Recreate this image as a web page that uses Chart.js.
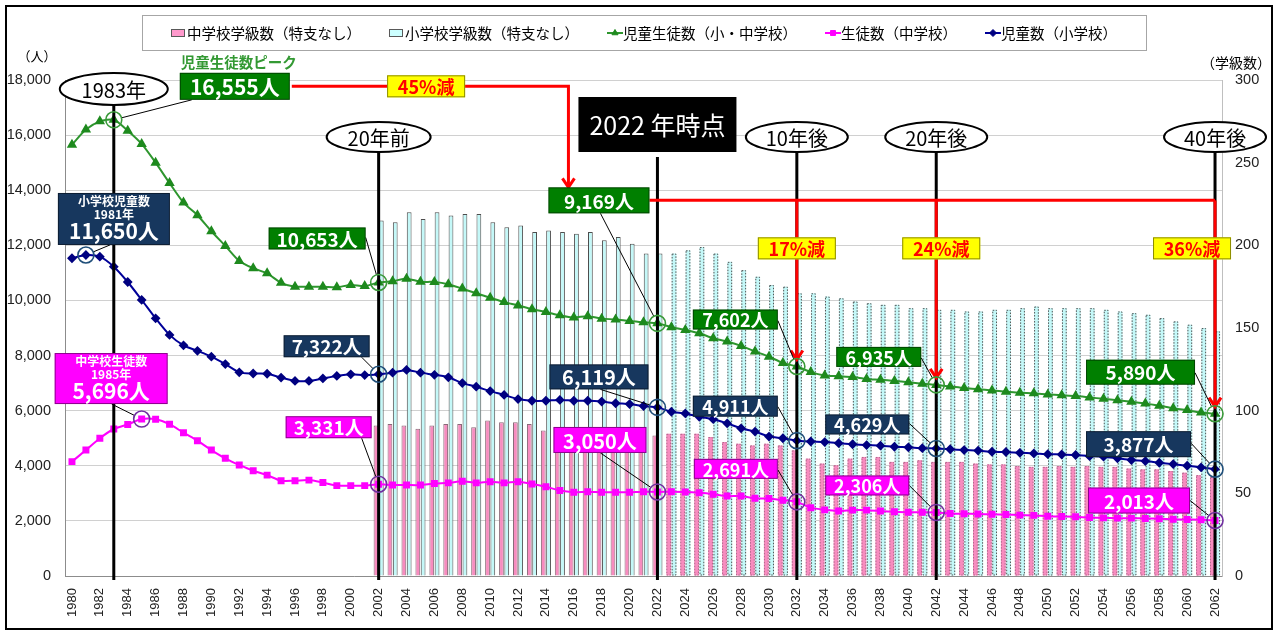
<!DOCTYPE html>
<html lang="ja">
<head>
<meta charset="utf-8">
<title>児童生徒数・学級数の推移</title>
<script src="https://cdn.jsdelivr.net/npm/chart.js@4.4.1/dist/chart.umd.min.js"></script>
<style>
  body { margin: 0; background: #fff; }
  #wrap { position: relative; width: 1277px; height: 634px; }
  #frame { position: absolute; left: 5px; top: 5px; width: 1264px; height: 621px; border: 2px solid #000; pointer-events: none; }
</style>
</head>
<body>
<div id="wrap">
  <canvas id="grafica" width="1277" height="634"></canvas>
  <div id="frame"></div>
</div>
<script>
// years on the x axis
const years = [
  '1980','1981','1982','1983','1984','1985','1986','1987','1988','1989',
  '1990','1991','1992','1993','1994','1995','1996','1997','1998','1999',
  '2000','2001','2002','2003','2004','2005','2006','2007','2008','2009',
  '2010','2011','2012','2013','2014','2015','2016','2017','2018','2019',
  '2020','2021','2022','2023','2024','2025','2026','2027','2028','2029',
  '2030','2031','2032','2033','2034','2035','2036','2037','2038','2039',
  '2040','2041','2042','2043','2044','2045','2046','2047','2048','2049',
  '2050','2051','2052','2053','2054','2055','2056','2057','2058','2059',
  '2060','2061','2062'
];

// 児童生徒数（小・中学校）
const totalStudents = [
  15650, 16200, 16500, 16555, 16160, 15680, 15000, 14260, 13550, 13090,
  12510, 11980, 11430, 11170, 10985, 10640, 10500, 10500, 10500, 10480,
  10560, 10520, 10653, 10700, 10790, 10680, 10670, 10590, 10430, 10260,
  10100, 9940, 9820, 9680, 9580, 9460, 9380, 9430, 9340, 9310,
  9250, 9210, 9169, 9030, 8930, 8810, 8630, 8510, 8350, 8150,
  7960, 7730, 7602, 7400, 7280, 7250, 7220, 7150, 7120, 7080,
  7030, 6980, 6935, 6880, 6820, 6780, 6730, 6690, 6650, 6630,
  6590, 6560, 6530, 6480, 6430, 6380, 6320, 6260, 6180, 6090,
  6020, 5930, 5890
];

// 児童数（小学校）
const elemStudents = [
  11530, 11650, 11590, 11225, 10670, 10020, 9350, 8750, 8370, 8170,
  7960, 7690, 7390, 7350, 7340, 7200, 7080, 7080, 7170, 7260,
  7320, 7290, 7322, 7380, 7480, 7380, 7300, 7210, 7000, 6870,
  6710, 6570, 6420, 6360, 6360, 6390, 6360, 6360, 6330, 6270,
  6240, 6170, 6119, 5960, 5900, 5780, 5690, 5540, 5360, 5240,
  5060, 5000, 4911, 4880, 4860, 4820, 4780, 4750, 4730, 4690,
  4670, 4640, 4629, 4600, 4570, 4550, 4510, 4500, 4470, 4450,
  4420, 4410, 4390, 4350, 4330, 4270, 4210, 4170, 4110, 4060,
  4000, 3940, 3877
];

// 生徒数（中学校）
const juniorStudents = [
  4150, 4570, 5000, 5335, 5500, 5696, 5690, 5510, 5200, 4910,
  4570, 4270, 4030, 3820, 3660, 3460, 3460, 3480, 3390, 3280,
  3280, 3280, 3331, 3300, 3300, 3300, 3360, 3380, 3440, 3380,
  3420, 3380, 3420, 3340, 3240, 3100, 3040, 3060, 3040, 3040,
  3040, 3060, 3050, 3060, 3050, 3020, 2970, 2900, 2900, 2820,
  2810, 2750, 2691, 2480, 2400, 2360, 2390, 2390, 2360, 2330,
  2310, 2310, 2306, 2270, 2260, 2250, 2240, 2230, 2210, 2200,
  2170, 2160, 2150, 2120, 2110, 2100, 2100, 2090, 2080, 2060,
  2050, 2040, 2013
];

// 中学校学級数（特支なし） right axis
const juniorClasses = [
  null, null, null, null, null, null, null, null, null, null,
  null, null, null, null, null, null, null, null, null, null,
  null, null, 91, 92, 91, 89, 91, 92, 92, 90,
  94, 93, 93, 92, 88, 87, 87, 86, 86, 86,
  85, 85, 85, 86, 86, 86, 84, 81, 80, 79,
  80, 79, 76, 71, 68, 67, 71, 72, 72, 69,
  69, 70, 69, 69, 69, 68, 67.5, 67.5, 66.5, 66,
  66, 66.5, 66, 66.5, 66, 66, 65, 64.5, 64.5, 63.5,
  62.5, 61, 60
];

// 小学校学級数（特支なし） right axis
const elemClasses = [
  null, null, null, null, null, null, null, null, null, null,
  null, null, null, null, null, null, null, null, null, null,
  null, null, 215, 214, 220, 216, 220, 218, 219, 219,
  214, 211, 212, 208, 209, 208, 207, 208, 203, 205,
  201, 195, 195, 195, 197, 199, 195, 190, 185, 181,
  176, 175, 171, 171, 169, 168, 166, 165, 164, 164,
  162, 162, 161, 161, 160, 160, 161, 161, 162, 163,
  162, 162, 162, 162, 161, 160, 159, 158, 156, 154,
  152, 150, 148
];

const lastActual = years.indexOf('2022');
const JP = '"Noto Sans CJK JP", "Noto Sans", sans-serif';
const AR = '"Liberation Sans", Arial, sans-serif';
const GREEN = '#007f00', NAVY = '#17375e', PINK = '#ff00ff';
const seriesIndex = { total: 2, junior: 3, elem: 4 };
const ringColor = { total: '#3a9a3a', elem: '#1f4e79', junior: '#7030a0' };

// milestone ellipses
const eras = [
  { year: '1983', text: '1983年', cy: 89, rx: 54, ry: 16 },
  { year: '2002', text: '20年前', cy: 137, rx: 52, ry: 15 },
  { year: '2032', text: '10年後', cy: 137, rx: 51, ry: 15 },
  { year: '2042', text: '20年後', cy: 137, rx: 51, ry: 15 },
  { year: '2062', text: '40年後', cy: 137, rx: 51, ry: 15 }
];
const nowBox = { year: '2022', text: '2022 年時点', top: 97, w: 158, h: 55 };

// value callouts: box offset from the data point, leader start inside box
const callouts = [
  { id: 'peak', year: '1983', s: 'total', lines: ['16,555人'], bg: GREEN, dx: 66, dy: -47, w: 110, h: 27, size: 21, lx: 12, ly: 27 },
  { id: 'e81', year: '1981', s: 'elem', lines: ['小学校児童数', '1981年', '11,650人'], bg: NAVY, dx: -28, dy: -62, w: 112, h: 52, size: 21, lx: 52, ly: 52 },
  { id: 'j85', year: '1985', s: 'junior', lines: ['中学校生徒数', '1985年', '5,696人'], bg: PINK, dx: -87, dy: -66, w: 113, h: 51, size: 21, lx: 57, ly: 51 },
  { id: 't02', year: '2002', s: 'total', lines: ['10,653人'], bg: GREEN, dx: -110, dy: -55, w: 97, h: 22, size: 19, lx: 97, ly: 10 },
  { id: 'e02', year: '2002', s: 'elem', lines: ['7,322人'], bg: NAVY, dx: -95, dy: -39, w: 86, h: 22, size: 19, lx: 78, ly: 22 },
  { id: 'j02', year: '2002', s: 'junior', lines: ['3,331人'], bg: PINK, dx: -93, dy: -68, w: 86, h: 22, size: 19, lx: 76, ly: 22 },
  { id: 'now', year: '2022', s: 'total', lines: ['9,169人'], bg: GREEN, dx: -109, dy: -136, w: 101, h: 26, size: 19, lx: 52, ly: 26 },
  { id: 'e22', year: '2022', s: 'elem', lines: ['6,119人'], bg: NAVY, dx: -108, dy: -43, w: 99, h: 25, size: 20, lx: 51, ly: 25 },
  { id: 'j22', year: '2022', s: 'junior', lines: ['3,050人'], bg: PINK, dx: -104, dy: -65, w: 93, h: 26, size: 20, lx: 47, ly: 26 },
  { id: 't32', year: '2032', s: 'total', lines: ['7,602人'], bg: GREEN, dx: -104, dy: -57, w: 85, h: 20, size: 18, lx: 85, ly: 11 },
  { id: 'e32', year: '2032', s: 'elem', lines: ['4,911人'], bg: NAVY, dx: -104, dy: -45, w: 85, h: 21, size: 18, lx: 85, ly: 11 },
  { id: 'j32', year: '2032', s: 'junior', lines: ['2,691人'], bg: PINK, dx: -103, dy: -43, w: 84, h: 20, size: 18, lx: 84, ly: 11 },
  { id: 't42', year: '2042', s: 'total', lines: ['6,935人'], bg: GREEN, dx: -100, dy: -38, w: 85, h: 20, size: 18, lx: 85, ly: 11 },
  { id: 'e42', year: '2042', s: 'elem', lines: ['4,629人'], bg: NAVY, dx: -111, dy: -34, w: 84, h: 20, size: 18, lx: 84, ly: 9 },
  { id: 'j42', year: '2042', s: 'junior', lines: ['2,306人'], bg: PINK, dx: -111, dy: -37, w: 84, h: 20, size: 18, lx: 84, ly: 10 },
  { id: 't62', year: '2062', s: 'total', lines: ['5,890人'], bg: GREEN, dx: -129, dy: -54, w: 109, h: 25, size: 19, lx: 109, ly: 13 },
  { id: 'e62', year: '2062', s: 'elem', lines: ['3,877人'], bg: NAVY, dx: -129, dy: -38, w: 105, h: 26, size: 19, lx: 105, ly: 12 },
  { id: 'j62', year: '2062', s: 'junior', lines: ['2,013人'], bg: PINK, dx: -127, dy: -33, w: 102, h: 26, size: 19, lx: 102, ly: 13 }
];

function line(c, x1, y1, x2, y2) {
  c.beginPath(); c.moveTo(x1, y1); c.lineTo(x2, y2); c.stroke();
}

function arrowDown(c, x, y) {
  c.beginPath(); c.moveTo(x - 6, y - 9); c.lineTo(x, y); c.lineTo(x + 6, y - 9); c.stroke();
}

function yellowTag(c, cx, cy, text) {
  const w = 78, h = 22;
  c.fillStyle = '#ffff00';
  c.fillRect(cx - w / 2, cy - h / 2, w, h);
  c.strokeStyle = '#8c8c00'; c.lineWidth = 1;
  c.strokeRect(cx - w / 2 + 0.5, cy - h / 2 + 0.5, w - 1, h - 1);
  c.fillStyle = '#ff0000';
  c.font = 'bold 18px ' + JP;
  c.textAlign = 'center'; c.textBaseline = 'middle';
  c.fillText(text, cx, cy + 1);
}

const annotations = {
  id: 'annotations',
  // dotted outline on the projected bars
  afterDatasetDraw(chart, args) {
    if (args.meta.type !== 'bar') return;
    const src = args.index === 1 ? elemClasses : juniorClasses;
    const c = chart.ctx;
    c.save();
    c.strokeStyle = args.index === 1 ? '#555' : '#b06a8c';
    c.lineWidth = 1; c.setLineDash([1.5, 1.5]);
    args.meta.data.forEach((bar, i) => {
      if (i <= lastActual || src[i] == null) return;
      const p = bar.getProps(['x', 'y', 'base', 'width'], true);
      c.strokeRect(p.x - p.width / 2 + 0.5, p.y + 0.5, p.width - 1, p.base - p.y - 1);
    });
    c.restore();
  },
  afterDatasetsDraw(chart) {
    const c = chart.ctx;
    const area = chart.chartArea;
    const xOf = yr => chart.scales.x.getPixelForValue(years.indexOf(yr));
    const pt = (yr, s) => chart.getDatasetMeta(seriesIndex[s]).data[years.indexOf(yr)];
    c.save();

    // milestone lines
    c.strokeStyle = '#000'; c.lineWidth = 3;
    eras.forEach(e => { const x = xOf(e.year); line(c, x, e.cy + e.ry, x, area.bottom + 4); });
    const nx = xOf(nowBox.year);
    line(c, nx, nowBox.top + nowBox.h + 5, nx, area.bottom + 4);

    const boxes = {};
    callouts.forEach(k => {
      const p = pt(k.year, k.s);
      boxes[k.id] = { x: p.x + k.dx, y: p.y + k.dy, w: k.w, h: k.h, px: p.x, py: p.y, k };
    });

    // red decrease arrows
    c.strokeStyle = '#ff0000'; c.lineWidth = 3;
    const b1 = boxes.peak, b2 = boxes.now;
    const y1 = b1.y + b1.h / 2, x1end = b2.x + 20;
    c.beginPath(); c.moveTo(b1.x + b1.w + 2, y1); c.lineTo(x1end, y1); c.lineTo(x1end, b2.y); c.stroke();
    arrowDown(c, x1end, b2.y);
    const y2 = b2.y + b2.h / 2;
    const xEnd = xOf('2062');
    c.beginPath(); c.moveTo(b2.x + b2.w, y2); c.lineTo(xEnd, y2); c.stroke();
    ['2032', '2042', '2062'].forEach(yr => {
      const x = xOf(yr), tip = pt(yr, 'total').y - 7;
      line(c, x, y2, x, tip);
      arrowDown(c, x, tip);
    });

    // leader lines and rings
    callouts.forEach(k => {
      const b = boxes[k.id];
      const sx = b.x + k.lx, sy = b.y + k.ly;
      const ang = Math.atan2(sy - b.py, sx - b.px);
      c.strokeStyle = '#000'; c.lineWidth = 1;
      line(c, sx, sy, b.px + Math.cos(ang) * 8, b.py + Math.sin(ang) * 8);
      c.strokeStyle = ringColor[k.s]; c.lineWidth = 1.6;
      c.beginPath(); c.arc(b.px, b.py, 8, 0, Math.PI * 2); c.stroke();
    });

    // callout boxes
    callouts.forEach(k => {
      const b = boxes[k.id];
      c.fillStyle = k.bg;
      c.fillRect(b.x, b.y, b.w, b.h);
      c.strokeStyle = 'rgba(0,0,0,0.45)'; c.lineWidth = 1;
      c.strokeRect(b.x + 0.5, b.y + 0.5, b.w - 1, b.h - 1);
      c.fillStyle = '#fff';
      c.textAlign = 'center'; c.textBaseline = 'middle';
      const cx = b.x + b.w / 2;
      if (k.lines.length === 1) {
        c.font = 'bold ' + k.size + 'px ' + JP;
        c.fillText(k.lines[0], cx, b.y + b.h / 2 + 1);
      } else {
        c.font = 'bold 12px ' + JP;
        c.fillText(k.lines[0], cx, b.y + 8);
        c.fillText(k.lines[1], cx, b.y + 21);
        c.font = 'bold ' + k.size + 'px ' + JP;
        c.fillText(k.lines[2], cx, b.y + 38);
      }
    });

    // peak caption
    c.fillStyle = '#339933';
    c.font = 'bold 14.5px ' + JP;
    c.textAlign = 'left'; c.textBaseline = 'middle';
    c.fillText('児童生徒数ピーク', b1.x + 1, b1.y - 10);

    // ellipses
    eras.forEach(e => {
      const x = xOf(e.year);
      c.beginPath(); c.ellipse(x, e.cy, e.rx, e.ry, 0, 0, Math.PI * 2);
      c.fillStyle = '#fff'; c.fill();
      c.strokeStyle = '#000'; c.lineWidth = 2; c.stroke();
      c.fillStyle = '#000'; c.font = '20px ' + JP;
      c.textAlign = 'center'; c.textBaseline = 'middle';
      c.fillText(e.text, x, e.cy + 1);
    });

    // 2022 box
    c.fillStyle = '#000';
    c.fillRect(nx - nowBox.w / 2, nowBox.top, nowBox.w, nowBox.h);
    c.fillStyle = '#fff'; c.font = '25px ' + JP;
    c.textAlign = 'center'; c.textBaseline = 'middle';
    c.fillText(nowBox.text, nx, nowBox.top + nowBox.h / 2 + 1);

    // percentage tags
    yellowTag(c, (b1.x + b1.w + x1end) / 2 - 3, y1, '45%減');
    yellowTag(c, xOf('2032'), y2 + 48, '17%減');
    yellowTag(c, xOf('2042') + 5, y2 + 48, '24%減');
    yellowTag(c, xEnd - 23, y2 + 48, '36%減');

    // axis titles
    c.fillStyle = '#000'; c.textBaseline = 'middle'; c.textAlign = 'center';
    c.font = '13px ' + JP;
    c.fillText('（人）', 37, 56);
    c.font = '14px ' + JP;
    c.fillText('（学級数）', 1236, 63);

    // legend
    c.strokeStyle = '#a6a6a6'; c.lineWidth = 1;
    c.fillStyle = '#fff';
    c.fillRect(142, 15, 1004, 35);
    c.strokeRect(142.5, 15.5, 1004, 35);
    let lx = 171;
    const ly = 33;
    c.font = '14.5px ' + JP;
    chart.data.datasets.forEach(ds => {
      if (ds.type === 'bar') {
        c.fillStyle = ds.legendFill; c.strokeStyle = '#595959'; c.lineWidth = 1;
        c.fillRect(lx, ly - 3.5, 14, 7);
        c.strokeRect(lx + 0.5, ly - 3.5, 13, 7);
      } else {
        c.strokeStyle = ds.borderColor; c.lineWidth = 2;
        line(c, lx, ly, lx + 16, ly);
        c.fillStyle = ds.pointBackgroundColor; c.strokeStyle = ds.pointBackgroundColor; c.lineWidth = 1;
        Chart.helpers.drawPoint(c, { pointStyle: ds.pointStyle, radius: 3.5, borderWidth: 1, rotation: 0 }, lx + 8, ly);
      }
      c.fillStyle = '#000'; c.textAlign = 'left'; c.textBaseline = 'middle';
      c.fillText(ds.label, lx + 16, ly);
      lx += 16 + c.measureText(ds.label).width + 28;
    });

    c.restore();
  }
};

const ctx = document.getElementById('grafica').getContext('2d');
new Chart(ctx, {
  type: 'bar',
  data: {
    labels: years,
    datasets: [
      {
        type: 'bar', label: '中学校学級数（特支なし）', data: juniorClasses, yAxisID: 'y2',
        backgroundColor: '#f78cbf', legendFill: '#ff99cc',
        borderColor: '#8a6a78',
        borderWidth: c => c.dataIndex <= lastActual ? 1 : 0,
        categoryPercentage: 0.76, barPercentage: 0.9, order: 3
      },
      {
        type: 'bar', label: '小学校学級数（特支なし）', data: elemClasses, yAxisID: 'y2',
        backgroundColor: '#c4f8f8', legendFill: '#ccffff',
        borderColor: '#4d4d4d',
        borderWidth: c => c.dataIndex <= lastActual ? 1 : 0,
        categoryPercentage: 0.76, barPercentage: 0.9, order: 3
      },
      {
        type: 'line', label: '児童生徒数（小・中学校）', data: totalStudents, yAxisID: 'y',
        borderColor: '#2e962e', pointBackgroundColor: '#1e8a1e', pointBorderColor: '#1e8a1e',
        pointStyle: 'triangle', pointRadius: 4, borderWidth: 2, tension: 0.25, order: 1
      },
      {
        type: 'line', label: '生徒数（中学校）', data: juniorStudents, yAxisID: 'y',
        borderColor: '#ff00ff', pointBackgroundColor: '#ff00ff', pointBorderColor: '#ff00ff',
        pointStyle: 'rect', pointRadius: 3.5, borderWidth: 2, tension: 0.25, order: 1
      },
      {
        type: 'line', label: '児童数（小学校）', data: elemStudents, yAxisID: 'y',
        borderColor: '#000099', pointBackgroundColor: '#000080', pointBorderColor: '#000080',
        pointStyle: 'rectRot', pointRadius: 3.5, borderWidth: 2, tension: 0.25, order: 1
      }
    ]
  },
  options: {
    responsive: false,
    animation: false,
    layout: { padding: { left: 0, right: 0, top: 80, bottom: 8 } },
    plugins: { legend: { display: false }, tooltip: { enabled: false } },
    scales: {
      x: {
        grid: { display: false, drawTicks: false },
        border: { color: '#8c8c8c' },
        ticks: {
          autoSkip: false, minRotation: 90, maxRotation: 90, padding: 12, color: '#222',
          font: { family: AR, size: 13 },
          callback: (v, i) => i % 2 === 0 ? years[i] : ''
        },
        afterFit: s => { s.height = 50; }
      },
      y: {
        position: 'left', min: 0, max: 18000,
        grid: { color: '#d0d0d0', drawTicks: false },
        border: { color: '#8c8c8c' },
        ticks: {
          stepSize: 2000, padding: 14, color: '#222',
          font: { family: AR, size: 14.5 },
          callback: v => v.toLocaleString('en-US')
        },
        afterFit: s => { s.width = 65; }
      },
      y2: {
        position: 'right', min: 0, max: 300,
        grid: { drawOnChartArea: false, drawTicks: false },
        border: { color: '#bfbfbf' },
        ticks: { stepSize: 50, padding: 13, color: '#222', font: { family: AR, size: 14.5 } },
        afterFit: s => { s.width = 55; }
      }
    }
  },
  plugins: [annotations]
});
</script>
</body>
</html>
